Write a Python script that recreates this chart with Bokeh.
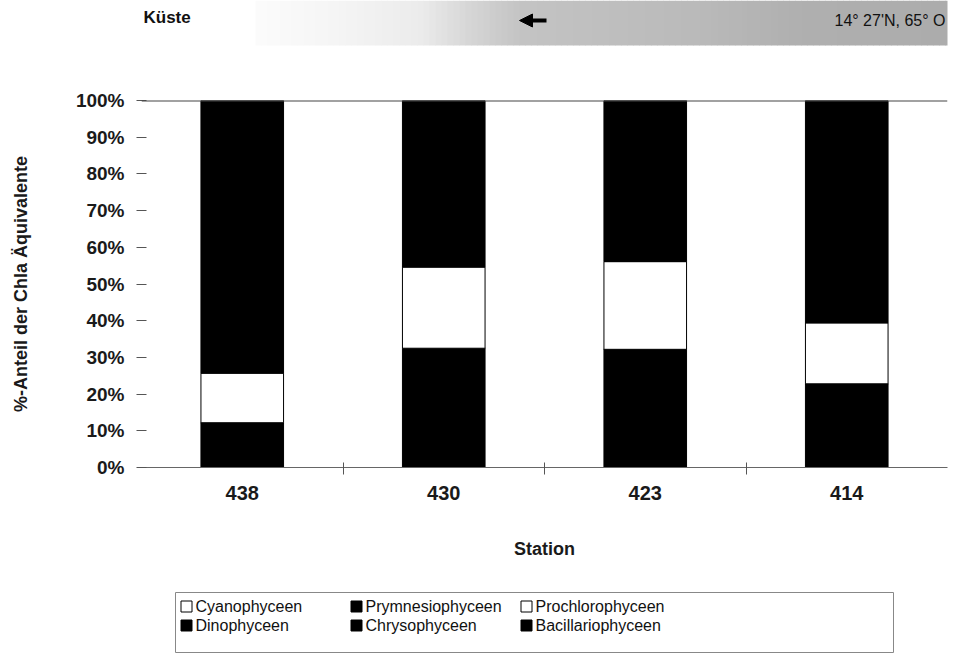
import numpy as np
from bokeh.plotting import figure
from bokeh.layouts import column
from bokeh.models import (FixedTicker, PrintfTickFormatter, Span, Arrow, NormalHead,
                          ColumnDataSource)
from bokeh.core.properties import value
from bokeh.embed import file_html
from bokeh.resources import INLINE

# ---------------- data ----------------
stations = ["438", "430", "423", "414"]
y_ticks = [0, 10, 20, 30, 40, 50, 60, 70, 80, 90, 100]

# legend order (as in the original legend, row by row)
legend_series = ["Cyanophyceen", "Prymnesiophyceen", "Prochlorophyceen",
                 "Dinophyceen", "Chrysophyceen", "Bacillariophyceen"]
legend_fill = ["white", "black", "white", "black", "black", "black"]

# percentage shares per station (stacking order bottom -> top)
bacillariophyceen = [12.2, 32.5, 32.2, 22.8]
chrysophyceen = [0.0, 0.0, 0.0, 0.0]
dinophyceen = [0.0, 0.0, 0.0, 0.0]
cyanophyceen = [0.0, 0.0, 0.0, 0.0]
prochlorophyceen = [13.5, 22.1, 23.9, 16.6]
prymnesiophyceen = [74.3, 45.4, 43.9, 60.6]

stack_order = ["Bacillariophyceen", "Chrysophyceen", "Dinophyceen",
               "Cyanophyceen", "Prochlorophyceen", "Prymnesiophyceen"]
stack_values = {
    "Bacillariophyceen": bacillariophyceen,
    "Chrysophyceen": chrysophyceen,
    "Dinophyceen": dinophyceen,
    "Cyanophyceen": cyanophyceen,
    "Prochlorophyceen": prochlorophyceen,
    "Prymnesiophyceen": prymnesiophyceen,
}

header_left = "Küste"
header_right = "14° 27'N, 65° O"
y_title = "%-Anteil der Chla Äquivalente"
x_title = "Station"

FONT = "Liberation Sans"
W = 960
BL, BR = 141, W - 947   # frame left / right borders shared by all figures

# ---------------- header band ----------------
hdr = figure(width=W, height=60, x_range=(BL, W - BR), y_range=(0, 60),
             output_backend="svg", toolbar_location=None,
             x_axis_type=None, y_axis_type=None, min_border=0,
             min_border_left=BL, min_border_right=BR)
hdr.outline_line_color = None
hdr.grid.visible = False

stops_x = [255, 330, 420, 470, 520, 700, 800, 960]
stops_g = [252, 246, 236, 214, 196, 186, 176, 172]
edges = np.arange(255, 961, 6)
lefts = edges[:-1]
rights = edges[1:] + 0.5
mids = (lefts + rights) / 2
greys = np.interp(mids, stops_x, stops_g).astype(int)
cols = ["#%02x%02x%02x" % (g, g, g) for g in greys]
hdr.quad(left=lefts, right=rights, bottom=15, top=60, fill_color=cols,
         line_color=None)
hdr.text(x=[143], y=[43], text=[header_left], text_font=value(FONT),
         text_font_size="17px", text_font_style="bold", text_baseline="middle",
         text_color="#111")
hdr.text(x=[945], y=[40], text=[header_right], text_font=value(FONT),
         text_font_size="16px", text_baseline="middle", text_align="right",
         text_color="#111")
hdr.add_layout(Arrow(end=NormalHead(size=13, fill_color="black", line_color="black"),
                     x_start=546, y_start=40, x_end=519, y_end=40,
                     line_width=4, line_color="black"))

# ---------------- main chart ----------------
p = figure(width=W, height=520, x_range=(0, len(stations)), y_range=(0, 100),
           output_backend="svg", toolbar_location=None,
           min_border_left=BL, min_border_right=BR,
           min_border_top=40, min_border_bottom=113)
p.outline_line_color = None
p.grid.visible = False
p.background_fill_color = "white"

xs = [i + 0.5 for i in range(len(stations))]
data = {"x": xs}
data.update(stack_values)
src = ColumnDataSource(data)
fill_map = dict(zip(legend_series, legend_fill))
p.vbar_stack(stack_order, x="x", width=0.41, source=src,
             fill_color=[fill_map[s] for s in stack_order],
             line_color="black", line_width=1)

p.add_layout(Span(location=100, dimension="width", line_color="#444",
                  line_width=2))

# y axis
p.yaxis.ticker = FixedTicker(ticks=y_ticks)
p.yaxis.formatter = PrintfTickFormatter(format="%d%%")
p.yaxis.axis_line_color = None
p.yaxis.major_tick_in = 5
p.yaxis.major_tick_out = 5
p.yaxis.major_tick_line_color = "#555"
p.yaxis.minor_tick_line_color = None
p.yaxis.major_label_standoff = 12
p.yaxis.major_label_text_font = FONT
p.yaxis.major_label_text_font_size = "19px"
p.yaxis.major_label_text_font_style = "bold"
p.yaxis.major_label_text_color = "#1a1a1a"
p.yaxis.axis_label = y_title
p.yaxis.axis_label_text_font = FONT
p.yaxis.axis_label_text_font_size = "18px"
p.yaxis.axis_label_text_font_style = "bold"
p.yaxis.axis_label_text_color = "#1a1a1a"
p.yaxis.axis_label_standoff = 42

# x axis
p.xaxis.ticker = FixedTicker(ticks=xs, minor_ticks=[i + 1.0 for i in range(len(stations) - 1)])
p.xaxis.major_label_overrides = {x: s for x, s in zip(xs, stations)}
p.xaxis.axis_line_color = "#666"
p.xaxis.axis_line_width = 1
p.xaxis.major_tick_line_color = None
p.xaxis.major_tick_in = 0
p.xaxis.major_tick_out = 0
p.xaxis.minor_tick_line_color = "#555"
p.xaxis.minor_tick_in = 5
p.xaxis.minor_tick_out = 7
p.xaxis.major_label_standoff = 11
p.xaxis.major_label_text_font = FONT
p.xaxis.major_label_text_font_size = "20px"
p.xaxis.major_label_text_font_style = "bold"
p.xaxis.major_label_text_color = "#1a1a1a"
p.xaxis.axis_label = x_title
p.xaxis.axis_label_text_font = FONT
p.xaxis.axis_label_text_font_size = "18px"
p.xaxis.axis_label_text_font_style = "bold"
p.xaxis.axis_label_text_color = "#1a1a1a"
p.xaxis.axis_label_standoff = 36

# ---------------- legend (drawn below) ----------------
lg = figure(width=W, height=80, x_range=(BL, W - BR), y_range=(0, 80),
            output_backend="svg", toolbar_location=None,
            x_axis_type=None, y_axis_type=None, min_border=0,
            min_border_left=BL, min_border_right=BR)
lg.outline_line_color = None
lg.grid.visible = False
lg.quad(left=[175], right=[893], bottom=[8], top=[68], fill_color=None,
        line_color="#888", line_width=1)

n_cols = 3
col_idx = [i % n_cols for i in range(len(legend_series))]
row_idx = [i // n_cols for i in range(len(legend_series))]
sq_x = [186 + 170 * c for c in col_idx]
sq_y = [54 - 19 * r for r in row_idx]
lg.rect(x=sq_x, y=sq_y, width=11, height=11, fill_color=legend_fill,
        line_color="black", line_width=1)
lg.text(x=[x + 9 for x in sq_x], y=sq_y, text=legend_series,
        text_font=value(FONT), text_font_size="16px", text_baseline="middle",
        text_color="#111")

layout = column(hdr, p, lg, spacing=0)
open("out.html", "w").write(file_html(layout, INLINE))
